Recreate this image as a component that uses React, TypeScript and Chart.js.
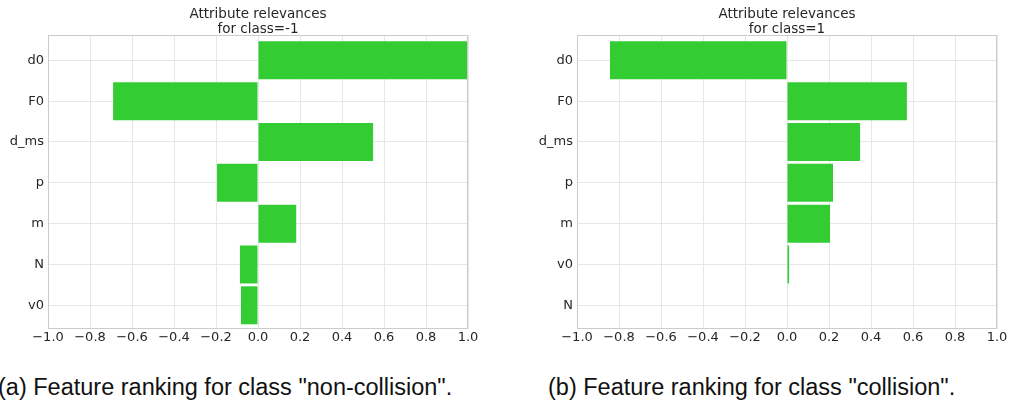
import React, { useEffect, useRef } from "react";
import { Chart, registerables } from "chart.js";

Chart.register(...registerables);

const categoriesA = ["d0", "F0", "d_ms", "p", "m", "N", "v0"];
const valuesA = [1.0, -0.69, 0.548, -0.195, 0.182, -0.086, -0.081];
const titleA = ["Attribute relevances", "for class=-1"];
const captionA = '(a) Feature ranking for class "non-collision".';

const categoriesB = ["d0", "F0", "d_ms", "p", "m", "v0", "N"];
const valuesB = [-0.843, 0.571, 0.348, 0.219, 0.205, 0.01, 0.0];
const titleB = ["Attribute relevances", "for class=1"];
const captionB = '(b) Feature ranking for class "collision".';

const xTicks = [-1.0, -0.8, -0.6, -0.4, -0.2, 0.0, 0.2, 0.4, 0.6, 0.8, 1.0];

const BAR_COLOR = "#33cc33";
const GRID = "#e6e6e6";
const FRAME = "#cccccc";
const TEXT = "#262626";
const FONT = "'DejaVu Sans', sans-serif";

function fmt(v: number): string {
  const s = v.toFixed(1);
  return s.startsWith("-") ? "\u2212" + s.slice(1) : s;
}

function makeConfig(categories: string[], values: number[], title: string[], rightPad: number): any {
  const titlePlugin = {
    id: "twoLineTitle",
    afterDraw(chart: any) {
      const { ctx, chartArea } = chart;
      const cx = (chartArea.left + chartArea.right) / 2;
      ctx.save();
      ctx.fillStyle = TEXT;
      ctx.font = "13.5px " + FONT;
      ctx.textAlign = "center";
      ctx.textBaseline = "middle";
      ctx.fillText(title[0], cx, 14);
      ctx.fillText(title[1], cx, 29);
      ctx.restore();
    },
  };
  const framePlugin = {
    id: "frame",
    afterDatasetsDraw(chart: any) {
      const { ctx, chartArea } = chart;
      ctx.save();
      ctx.strokeStyle = FRAME;
      ctx.lineWidth = 1;
      ctx.strokeRect(
        Math.round(chartArea.left) + 0.5,
        Math.round(chartArea.top) + 0.5,
        Math.round(chartArea.right - chartArea.left) - 1,
        Math.round(chartArea.bottom - chartArea.top) - 1
      );
      ctx.restore();
    },
  };
  return {
    type: "bar",
    data: {
      datasets: [
        {
          data: values.map((v, i) => ({ x: v, y: i })),
          backgroundColor: BAR_COLOR,
          borderWidth: 0,
          barPercentage: 0.93,
          categoryPercentage: 1.0,
        },
      ],
    },
    plugins: [titlePlugin, framePlugin],
    options: {
      indexAxis: "y",
      animation: false,
      responsive: true,
      maintainAspectRatio: false,
      layout: { padding: { top: 35, right: rightPad, bottom: 0, left: 0 } },
      plugins: {
        legend: { display: false },
        title: { display: false },
        tooltip: { enabled: false },
      },
      scales: {
        x: {
          type: "linear",
          min: -1,
          max: 1,
          afterBuildTicks(scale: any) {
            scale.ticks = xTicks.map((v) => ({ value: v }));
          },
          afterFit(scale: any) {
            scale.height = 21;
          },
          ticks: {
            callback: (v: any) => fmt(Number(v)),
            color: TEXT,
            font: { family: FONT, size: 13 },
            padding: 1,
            maxRotation: 0,
            autoSkip: false,
          },
          grid: { color: GRID, drawTicks: false },
          border: { display: false },
        },
        y: {
          type: "linear",
          offset: false,
          min: -0.62,
          max: categories.length - 1 + 0.58,
          reverse: true,
          afterBuildTicks(scale: any) {
            scale.ticks = categories.map((_, i) => ({ value: i }));
          },
          afterFit(scale: any) {
            scale.width = 48;
          },
          ticks: {
            callback: (v: any) => categories[Number(v)] ?? "",
            color: TEXT,
            font: { family: FONT, size: 13 },
            padding: 4,
            autoSkip: false,
          },
          grid: { color: GRID, drawTicks: false, offset: false },
          border: { display: false },
        },
      },
    },
  };
}

function BarPanel(props: { categories: string[]; values: number[]; title: string[]; rightPad: number; style: any }) {
  const ref = useRef<HTMLCanvasElement | null>(null);
  useEffect(() => {
    if (!ref.current) return;
    const chart = new Chart(ref.current, makeConfig(props.categories, props.values, props.title, props.rightPad));
    return () => chart.destroy();
  }, []);
  return (
    <div style={{ position: "absolute", ...props.style }}>
      <canvas ref={ref} />
    </div>
  );
}

export default function App() {
  const captionStyle: any = {
    position: "absolute",
    fontFamily: "'Liberation Sans', Arial, sans-serif",
    fontSize: 23.5,
    lineHeight: "28px",
    color: "#111",
    whiteSpace: "nowrap",
    top: 373,
  };
  return (
    <div style={{ position: "absolute", left: 0, top: 0, width: 1011, height: 406, background: "#fff", overflow: "hidden" }}>
      <BarPanel
        categories={categoriesA}
        values={valuesA}
        title={titleA}
        rightPad={32}
        style={{ left: 0, top: 0, width: 500, height: 350 }}
      />
      <BarPanel
        categories={categoriesB}
        values={valuesB}
        title={titleB}
        rightPad={14}
        style={{ left: 529, top: 0, width: 482, height: 350 }}
      />
      <div style={{ ...captionStyle, left: -2 }}>{captionA}</div>
      <div style={{ ...captionStyle, left: 548 }}>{captionB}</div>
    </div>
  );
}
